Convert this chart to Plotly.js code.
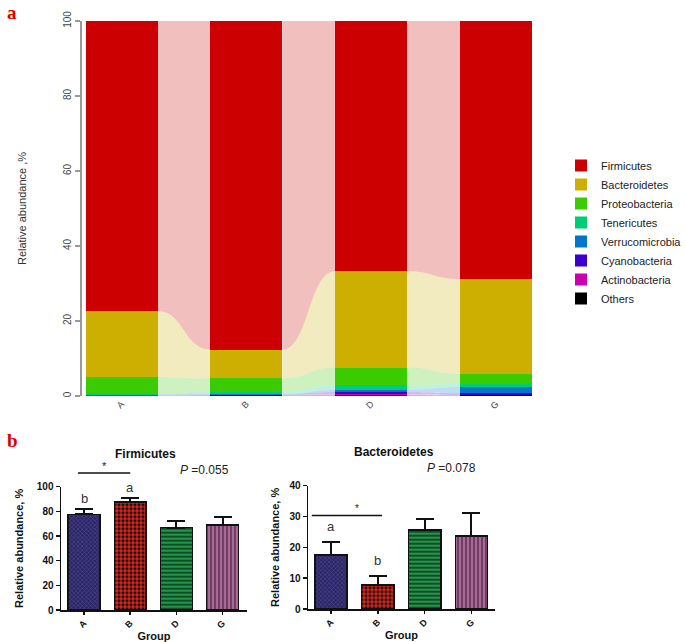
<!DOCTYPE html>
<html><head><meta charset="utf-8">
<script src="https://cdn.plot.ly/plotly-3.0.1.min.js"></script>
<style>html,body{margin:0;padding:0;background:#fff;overflow:hidden;} #chart{width:685px;height:642px;}</style>
</head><body><div id="chart"></div>
<script>
// ---------- data ----------
const groups = ['A', 'B', 'D', 'G'];
const phyla = ['Firmicutes', 'Bacteroidetes', 'Proteobacteria', 'Tenericutes',
               'Verrucomicrobia', 'Cyanobacteria', 'Actinobacteria', 'Others'];
const firmicutes      = [77.3, 87.6, 66.7, 68.8];
const bacteroidetes   = [17.6,  7.7, 25.7, 25.3];
const proteobacteria  = [ 4.4,  3.5,  4.7,  2.7];
const tenericutes     = [ 0.3,  0.7,  1.3,  0.8];
const verrucomicrobia = [ 0.1,  0.1,  0.5,  1.6];
const cyanobacteria   = [ 0.1,  0.1,  0.6,  0.5];
const actinobacteria  = [ 0.2,  0.1,  0.2,  0.1];
const others          = [ 0.0,  0.2,  0.3,  0.2];
const phylumColors = ['#CC0000', '#CCAF00', '#3ACC00', '#00CC75', '#0075CC', '#3A00CC', '#CC00AF', '#000000'];

const firmMean = [77.5, 87.6, 66.9, 69.0];
const firmSE   = [ 4.2,  2.9,  5.0,  6.6];
const firmLetters = ['b', 'a', '', ''];
const bactMean = [17.5,  7.8, 25.6, 23.7];
const bactSE   = [ 4.3,  2.8,  3.5,  7.3];
const bactLetters = ['a', 'b', '', ''];
const firmPText = '<i>P</i> =0.055';
const bactPText = '<i>P</i> =0.078';
const topYTicks = [0, 20, 40, 60, 80, 100];

// ---------- styling ----------
const FONT = 'Liberation Sans, Arial, Helvetica, sans-serif';
const layers = [firmicutes, bacteroidetes, proteobacteria, tenericutes, verrucomicrobia, cyanobacteria, actinobacteria, others];
const xpos = groups.map((g, i) => i);
const W = 0.577;
function rgba(hex, a) {
  const r = parseInt(hex.slice(1, 3), 16), g = parseInt(hex.slice(3, 5), 16), b = parseInt(hex.slice(5, 7), 16);
  return `rgba(${r},${g},${b},${a})`;
}

const traces = [];
// stacked bars (bottom layer first)
for (let k = phyla.length - 1; k >= 0; k--) {
  traces.push({
    type: 'bar', x: xpos, y: layers[k], name: phyla[k], width: W,
    marker: {color: phylumColors[k], line: {width: 0}},
    xaxis: 'x', yaxis: 'y', hovertemplate: phyla[k] + ': %{y}%<extra></extra>'
  });
}

// alluvial flows between bars (bezier bands in data coordinates)
const shapes = [];
function cumBelow(k, i) { let s = 0; for (let m = k + 1; m < layers.length; m++) s += layers[m][i]; return s; }
for (let i = 0; i < groups.length - 1; i++) {
  const xL = i + W / 2, xR = i + 1 - W / 2, xm = (xL + xR) / 2;
  for (let k = 0; k < layers.length; k++) {
    const b0 = cumBelow(k, i), t0 = b0 + layers[k][i];
    const b1 = cumBelow(k, i + 1), t1 = b1 + layers[k][i + 1];
    shapes.push({
      type: 'path', xref: 'x', yref: 'y', layer: 'below',
      path: `M ${xL},${t0} C ${xm},${t0} ${xm},${t1} ${xR},${t1} L ${xR},${b1} C ${xm},${b1} ${xm},${b0} ${xL},${b0} Z`,
      fillcolor: rgba(phylumColors[k], 0.25), line: {width: 0}
    });
  }
}

const patBg = ['#2C2664', '#E3241A', '#1F9A48', '#A66A94'];
const patFg = ['#5550A0', '#111111', '#111111', '#5A2A52'];
const patShape = ['x', '.', '-', '|'];
const patSize = [3, 4, 4, 4];
const patSolid = [0.3, 0.5, 0.3, 0.35];

function meanBars(mean, se, xa, ya) {
  groups.forEach((g, i) => {
    traces.push({
      type: 'bar', x: [xpos[i]], y: [mean[i]], width: 0.69, xaxis: xa, yaxis: ya, showlegend: false, name: g,
      marker: {color: patBg[i], line: {color: '#111', width: 1.5},
               pattern: {shape: patShape[i], fillmode: 'replace', fgopacity: 1, fgcolor: patFg[i], bgcolor: patBg[i],
                         size: patSize[i], solidity: patSolid[i]}},
      error_y: {type: 'data', symmetric: false, array: [se[i]], arrayminus: [0],
                color: '#111', thickness: 2, width: 9},
      hovertemplate: g + ': %{y}<extra></extra>'
    });
  });
}
meanBars(firmMean, firmSE, 'x2', 'y2');
meanBars(bactMean, bactSE, 'x3', 'y3');

const pap = (px, py) => ({x: px / 685, y: 1 - py / 642, xref: 'paper', yref: 'paper', xanchor: 'center', yanchor: 'middle', showarrow: false});
const annotations = [
  Object.assign(pap(12, 12), {text: '<b>a</b>', font: {family: 'Liberation Serif, serif', size: 19, color: '#E00000'}}),
  Object.assign(pap(12, 440), {text: '<b>b</b>', font: {family: 'Liberation Serif, serif', size: 19, color: '#E00000'}}),
  Object.assign(pap(145, 454), {text: '<b>Firmicutes</b>', font: {family: FONT, size: 12, color: '#111'}}),
  Object.assign(pap(394, 452), {text: '<b>Bacteroidetes</b>', font: {family: FONT, size: 12, color: '#111'}}),
  Object.assign(pap(204, 470), {text: firmPText, font: {family: FONT, size: 12, color: '#222'}}),
  Object.assign(pap(452, 468), {text: bactPText, font: {family: FONT, size: 12, color: '#222'}}),
  {text: '*', x: 0.45, xref: 'x2', y: 1 - 466 / 642, yref: 'paper', xanchor: 'center', yanchor: 'middle', showarrow: false,
   font: {family: FONT, size: 11, color: '#222'}},
  {text: '*', x: 0.55, xref: 'x3', y: 30.3, yref: 'y3', xanchor: 'center', yanchor: 'bottom', showarrow: false,
   font: {family: FONT, size: 10, color: '#222'}}
];
firmLetters.forEach((t, i) => { if (t) annotations.push({text: t, x: i, xref: 'x2', y: firmMean[i] + firmSE[i], yref: 'y2',
  xanchor: 'center', yanchor: 'bottom', yshift: 1, showarrow: false, font: {family: FONT, size: 13, color: '#333'}}); });
bactLetters.forEach((t, i) => { if (t) annotations.push({text: t, x: i, xref: 'x3', y: bactMean[i] + bactSE[i], yref: 'y3',
  xanchor: 'center', yanchor: 'bottom', yshift: 6, showarrow: false, font: {family: FONT, size: 13, color: '#333'}}); });

shapes.push(
  {type: 'line', xref: 'x2', x0: -0.13, x1: 1.0, yref: 'paper', y0: 1 - 473 / 642, y1: 1 - 473 / 642,
   line: {color: '#111', width: 1.5}},
  {type: 'line', xref: 'x3', x0: -0.41, x1: 1.09, yref: 'y3', y0: 30.3, y1: 30.3,
   line: {color: '#111', width: 1.5}}
);

const botX = (dom, rng) => ({
  domain: dom, range: rng, tickvals: xpos, ticktext: groups, tickangle: -45,
  showline: true, linecolor: '#111', linewidth: 1.5, ticks: 'outside', ticklen: 3, tickcolor: '#111', tickwidth: 1.5,
  showgrid: false, zeroline: false, fixedrange: true,
  tickfont: {family: FONT, size: 9, color: '#111', weight: 'bold'},
  title: {text: '<b>Group</b>', font: {family: FONT, size: 11, color: '#111'}, standoff: 2}
});
const botY = (dom, rng, dt, stand) => ({
  domain: dom, range: rng, dtick: dt, tick0: 0,
  showline: true, linecolor: '#111', linewidth: 1.5, ticks: 'outside', ticklen: 4, tickcolor: '#111', tickwidth: 1.5,
  showgrid: false, zeroline: false, fixedrange: true,
  tickfont: {family: FONT, size: 10, color: '#111', weight: 'bold'},
  title: {text: '<b>Relative abundance, %</b>', font: {family: FONT, size: 11, color: '#111'}, standoff: stand}
});

const layout = {
  width: 685, height: 642, margin: {l: 0, r: 0, t: 0, b: 0, autoexpand: false},
  paper_bgcolor: '#fff', plot_bgcolor: 'rgba(0,0,0,0)',
  barmode: 'stack', font: {family: FONT, color: '#333'},
  xaxis: {domain: [82 / 685, 545 / 685], range: [-0.317, 3.393], tickvals: xpos, ticktext: groups,
          tickangle: -45, ticks: '', showline: false, showgrid: false, zeroline: false, fixedrange: true,
          tickfont: {family: FONT, size: 9, color: '#444'}, anchor: 'y'},
  yaxis: {domain: [1 - 396 / 642, 1 - 21 / 642], range: [0, 100], tickvals: topYTicks, tickangle: -90,
          ticks: 'outside', ticklen: 5, tickcolor: '#999', tickwidth: 1.5, showline: true, linecolor: '#999', linewidth: 2,
          showgrid: false, zeroline: false, fixedrange: true, anchor: 'x',
          tickfont: {family: FONT, size: 10, color: '#444'},
          title: {text: 'Relative abundance ,%', font: {family: FONT, size: 11, color: '#333'}, standoff: 33}},
  xaxis2: Object.assign(botX([61 / 685, 247 / 685], [-0.498, 3.528]), {anchor: 'y2'}),
  yaxis2: Object.assign(botY([1 - 610 / 642, 1 - 486.7 / 642], [0, 100], 20, 11), {anchor: 'x2'}),
  xaxis3: Object.assign(botX([308 / 685, 495 / 685], [-0.491, 3.504]), {anchor: 'y3'}),
  yaxis3: Object.assign(botY([1 - 609 / 642, 1 - 485.7 / 642], [0, 40], 10, 7), {anchor: 'x3'}),
  legend: {x: 561 / 685, xanchor: 'left', y: 1 - 151 / 642, yanchor: 'top', traceorder: 'reversed',
           bgcolor: 'rgba(0,0,0,0)', font: {family: FONT, size: 11, color: '#222'}},
  annotations: annotations, shapes: shapes
};

Plotly.newPlot('chart', traces, layout, {displayModeBar: false, staticPlot: true});
</script>
</body></html>
